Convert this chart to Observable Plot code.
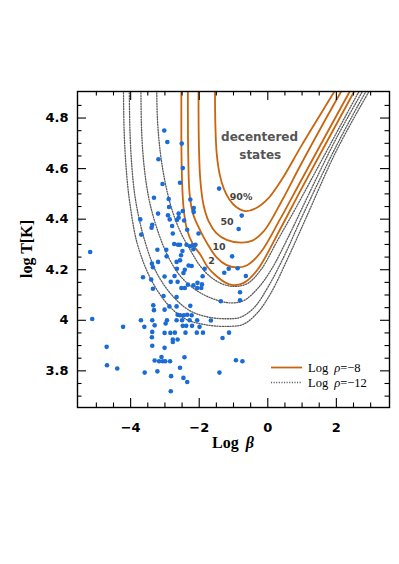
<!DOCTYPE html>
<html><head><meta charset="utf-8">
<script src="https://cdn.jsdelivr.net/npm/d3@7"></script>
<script src="https://cdn.jsdelivr.net/npm/@observablehq/plot@0.6"></script>
<style>
body{margin:0;background:#fff;}
#chart{position:absolute;left:0;top:0;}
</style></head><body><div id="chart"></div>
<script>
// Log rho = -8 curves (fraction of decentered states 90%, 50, 10, 2)
const o90 = [[-1.54,4.93],[-1.53,4.78],[-1.49,4.66],[-1.40,4.575],[-1.28,4.52],[-1.12,4.478],[-0.92,4.448],[-0.66,4.432],[-0.35,4.443],[0.0,4.48],[0.4,4.555],[1.0,4.695],[1.92,4.9],[2.05,4.93]];
const o50 = [[-2.02,4.93],[-2.01,4.7],[-1.97,4.56],[-1.88,4.46],[-1.72,4.39],[-1.5,4.345],[-1.2,4.318],[-0.78,4.307],[-0.45,4.315],[-0.1,4.355],[0.4,4.47],[1.0,4.625],[2.12,4.9],[2.25,4.93]];
const o10 = [[-2.33,4.93],[-2.32,4.65],[-2.28,4.5],[-2.18,4.42],[-1.97,4.355],[-1.75,4.30],[-1.5,4.25],[-1.2,4.218],[-0.92,4.209],[-0.6,4.218],[-0.2,4.27],[0.36,4.4],[1.0,4.56],[2.37,4.9],[2.5,4.93]];
const o2 = [[-2.52,4.93],[-2.51,4.6],[-2.46,4.45],[-2.36,4.36],[-2.18,4.30],[-1.97,4.26],[-1.75,4.21],[-1.5,4.175],[-1.25,4.15],[-1.02,4.139],[-0.7,4.148],[-0.3,4.2],[0.36,4.36],[1.0,4.525],[2.5,4.9],[2.62,4.93]];
// Log rho = -12 curves
const d90 = [[-3.24,4.93],[-3.22,4.8],[-3.14,4.67],[-3.0,4.55],[-2.8,4.44],[-2.55,4.35],[-2.27,4.28],[-2.0,4.22],[-1.7,4.175],[-1.35,4.145],[-1.0,4.134],[-0.6,4.145],[-0.2,4.2],[0.3,4.32],[0.8,4.44],[1.6,4.64],[2.64,4.9],[2.77,4.93]];
const d50 = [[-3.70,4.93],[-3.68,4.75],[-3.6,4.6],[-3.45,4.47],[-3.2,4.35],[-2.9,4.25],[-2.55,4.175],[-2.1,4.12],[-1.6,4.085],[-1.1,4.069],[-0.7,4.078],[-0.3,4.125],[0.1,4.2],[0.6,4.33],[1.2,4.5],[2.0,4.72],[2.74,4.9],[2.87,4.93]];
const d10 = [[-4.04,4.93],[-4.02,4.75],[-3.96,4.6],[-3.85,4.47],[-3.6,4.32],[-3.25,4.19],[-2.8,4.1],[-2.3,4.04],[-1.75,4.013],[-1.2,4.006],[-0.8,4.012],[-0.4,4.05],[0.0,4.13],[0.5,4.26],[1.0,4.41],[2.0,4.69],[2.84,4.9],[2.97,4.93]];
const d2 = [[-4.21,4.93],[-4.19,4.75],[-4.13,4.6],[-4.03,4.47],[-3.8,4.3],[-3.4,4.16],[-2.9,4.06],[-2.4,4.005],[-1.8,3.982],[-1.1,3.976],[-0.7,3.985],[-0.3,4.03],[0.1,4.11],[0.6,4.25],[1.1,4.4],[2.0,4.67],[2.93,4.9],[3.06,4.93]];

// observed points: [log beta, log T]
const points = [
[-3.02,4.751],[-2.93,4.705],[-2.51,4.699],[-3.19,4.637],[-2.48,4.602],[-2.56,4.544],[-3.07,4.539],[-1.42,4.521],
[-3.32,4.485],[-2.89,4.480],[-2.26,4.478],[-2.88,4.448],[-2.48,4.432],[-2.16,4.444],[-2.16,4.428],[-2.60,4.422],
[-3.20,4.422],[-2.91,4.415],[-3.72,4.399],[-2.86,4.399],[-2.65,4.397],[-2.44,4.395],[-2.60,4.406],[-0.76,4.414],
[-3.37,4.378],[-3.39,4.366],[-2.79,4.373],[-2.35,4.358],[-2.02,4.343],[-3.69,4.339],[-2.77,4.343],[-0.85,4.361],
[-2.73,4.302],[-2.62,4.299],[-2.56,4.299],[-2.37,4.299],[-2.19,4.297],[-2.11,4.299],[-2.17,4.281],[-3.22,4.279],
[-2.96,4.279],[-2.49,4.274],[-2.27,4.293],[-5.18,4.270],[-2.95,4.253],[-1.04,4.253],[-2.53,4.257],[-3.38,4.224],
[-3.20,4.231],[-2.66,4.231],[-2.56,4.237],[-2.31,4.217],[-2.22,4.215],[-1.84,4.204],[-1.14,4.204],[-0.88,4.206],
[-3.35,4.210],[-2.65,4.204],[-2.42,4.200],[-1.27,4.188],[-0.64,4.175],[-3.64,4.170],[-3.01,4.173],[-2.72,4.175],
[-2.46,4.187],[-1.90,4.174],[-3.40,4.161],[-2.83,4.152],[-2.63,4.152],[-2.52,4.128],[-2.42,4.128],[-2.33,4.141],
[-2.17,4.138],[-2.06,4.128],[-1.94,4.128],[-2.05,4.148],[-1.92,4.142],[-3.35,4.125],[-0.81,4.111],[-2.66,4.092],
[-3.04,4.096],[-1.37,4.075],[-0.81,4.079],[-3.34,4.059],[-3.32,4.040],[-2.87,4.055],[-2.66,4.055],[-3.01,4.042],
[-2.26,4.057],[-3.70,4.000],[-3.37,4.000],[-2.94,4.000],[-2.66,4.000],[-2.50,4.000],[-2.28,4.000],[-2.06,4.000],
[-1.66,3.999],[-5.12,4.005],[-4.22,3.974],[-3.60,3.974],[-3.30,3.980],[-2.98,3.987],[-2.63,4.022],[-2.56,4.020],
[-2.45,4.020],[-2.35,4.022],[-2.22,4.020],[-2.48,3.978],[-2.38,3.978],[-2.21,3.978],[-1.99,3.974],[-3.37,3.954],
[-3.01,3.950],[-2.84,3.950],[-2.71,3.951],[-2.40,3.951],[-2.07,3.951],[-1.89,3.951],[-1.13,3.951],[-1.32,3.930],
[-3.38,3.933],[-2.77,3.924],[-2.77,3.914],[-2.63,3.924],[-4.70,3.895],[-3.37,3.899],[-3.01,3.891],[-3.10,3.855],
[-2.43,3.854],[-3.30,3.841],[-3.17,3.838],[-3.06,3.838],[-2.99,3.838],[-2.85,3.838],[-2.56,3.812],[-0.93,3.842],
[-0.74,3.838],[-4.69,3.822],[-4.39,3.809],[-3.59,3.793],[-3.22,3.798],[-1.41,3.793],[-2.82,3.779],[-2.46,3.772],
[-2.35,3.756],[-2.83,3.719]
];

const curveLabels = ["90%", "50", "10", "2"];
const curveLabelX = [-0.78, -1.19, -1.42, -1.64];
const curveLabelY = [4.488, 4.389, 4.29, 4.233];
const noteLines = ["decentered", "states"];
const noteX = [-0.24, -0.22];
const noteY = [4.725, 4.652];

const xMajor = [-4, -2, 0, 2];
const xMinor = [-5, -4.5, -3.5, -3, -2.5, -1.5, -1, -0.5, 0.5, 1, 1.5, 2.5, 3];
const yMajor = [3.8, 4, 4.2, 4.4, 4.6, 4.8];
const yMinor = [3.7, 3.75, 3.85, 3.9, 3.95, 4.05, 4.1, 4.15, 4.25, 4.3, 4.35, 4.45, 4.5, 4.55, 4.65, 4.7, 4.75, 4.85];

const ORANGE = "#c9650f";
const DOT = "#5a5a5a";
const DASH = "1.1,1.5";
const W = 399, H = 470, ML = 77, MR = 10, MT = 91, MB = 63;
const PW = W - ML - MR, PH = H - MT - MB;
const bigT = 9, smallT = 4.5;

const orangeSets = [o90, o50, o10, o2];
const dottedSets = [d90, d50, d10, d2];

const marks = [];
for (const s of dottedSets) marks.push(Plot.line(s, {x: d => d[0], y: d => d[1], curve: "catmull-rom", stroke: DOT, strokeWidth: 1.3, strokeDasharray: DASH, clip: true}));
for (const s of orangeSets) marks.push(Plot.line(s, {x: d => d[0], y: d => d[1], curve: "catmull-rom", stroke: ORANGE, strokeWidth: 1.8, clip: true}));
marks.push(Plot.dot(points, {x: d => d[0], y: d => d[1], r: 2.3, fill: "#1a6bd6", stroke: null}));
marks.push(Plot.text(curveLabels, {x: (d, i) => curveLabelX[i], y: (d, i) => curveLabelY[i], text: d => d, fontSize: 9.5, fontWeight: "bold", fontFamily: "DejaVu Sans", fill: "#444"}));
marks.push(Plot.text(noteLines, {x: (d, i) => noteX[i], y: (d, i) => noteY[i], text: d => d, fontSize: 12, fontWeight: "bold", fontFamily: "DejaVu Sans", fill: "#555"}));
// inward ticks on all four sides
marks.push(Plot.tickX(xMajor, {x: d => d, insetTop: PH - bigT, stroke: "#000", strokeWidth: 1.1}));
marks.push(Plot.tickX(xMajor, {x: d => d, insetBottom: PH - bigT, stroke: "#000", strokeWidth: 1.1}));
marks.push(Plot.tickX(xMinor, {x: d => d, insetTop: PH - smallT, stroke: "#000", strokeWidth: 1.1}));
marks.push(Plot.tickX(xMinor, {x: d => d, insetBottom: PH - smallT, stroke: "#000", strokeWidth: 1.1}));
marks.push(Plot.tickY(yMajor, {y: d => d, insetRight: PW - bigT, stroke: "#000", strokeWidth: 1.1}));
marks.push(Plot.tickY(yMajor, {y: d => d, insetLeft: PW - bigT, stroke: "#000", strokeWidth: 1.1}));
marks.push(Plot.tickY(yMinor, {y: d => d, insetRight: PW - smallT, stroke: "#000", strokeWidth: 1.1}));
marks.push(Plot.tickY(yMinor, {y: d => d, insetLeft: PW - smallT, stroke: "#000", strokeWidth: 1.1}));
marks.push(Plot.frame({stroke: "#000", strokeWidth: 1.4}));
marks.push(Plot.axisX(xMajor, {tickSize: 0, tickPadding: 15, label: null, fontSize: 13, fontWeight: "bold", fontFamily: "DejaVu Sans", tickFormat: d => d < 0 ? "\u2212" + Math.abs(d) : String(d)}));
marks.push(Plot.axisY(yMajor, {tickSize: 0, tickPadding: 9, label: null, fontSize: 13, fontWeight: "bold", fontFamily: "DejaVu Sans", tickFormat: d => d === 4 ? "4" : d.toFixed(1)}));

const chart = Plot.plot({
  width: W, height: H,
  marginLeft: ML, marginRight: MR, marginTop: MT, marginBottom: MB,
  x: {domain: [-5.55, 3.55]},
  y: {domain: [3.655, 4.905]},
  style: {background: "white", fontFamily: "DejaVu Sans", overflow: "visible"},
  marks
});
document.getElementById("chart").appendChild(chart);

// axis titles and legend
const svg = d3.select(chart);
const xt = svg.append("text").attr("x", ML + PW / 2).attr("y", 448).attr("text-anchor", "middle")
  .attr("font-family", "Liberation Serif").attr("font-size", 16).attr("font-weight", "bold");
xt.append("tspan").text("Log ");
xt.append("tspan").attr("font-style", "italic").attr("dx", 3).text("\u03B2");
svg.append("text").attr("transform", `translate(32,${MT + PH / 2}) rotate(-90)`).attr("text-anchor", "middle")
  .attr("font-family", "Liberation Serif").attr("font-size", 16).attr("font-weight", "bold").text("log T[K]");

const lg = svg.append("g").attr("font-family", "Liberation Serif").attr("font-size", 12.5).attr("text-anchor", "start");
lg.append("line").attr("x1", 271).attr("x2", 302).attr("y1", 367.5).attr("y2", 367.5).attr("stroke", ORANGE).attr("stroke-width", 1.8);
lg.append("line").attr("x1", 271).attr("x2", 302).attr("y1", 382.5).attr("y2", 382.5).attr("stroke", DOT).attr("stroke-width", 1.3).attr("stroke-dasharray", DASH);
const t1 = lg.append("text").attr("x", 308).attr("y", 371.5).attr("text-anchor", "start");
t1.append("tspan").text("Log");
t1.append("tspan").attr("dx", 6).attr("font-style", "italic").text("\u03C1");
t1.append("tspan").text("=\u22128");
const t2 = lg.append("text").attr("x", 308).attr("y", 386.5).attr("text-anchor", "start");
t2.append("tspan").text("Log");
t2.append("tspan").attr("dx", 6).attr("font-style", "italic").text("\u03C1");
t2.append("tspan").text("=\u221212");
</script></body></html>
